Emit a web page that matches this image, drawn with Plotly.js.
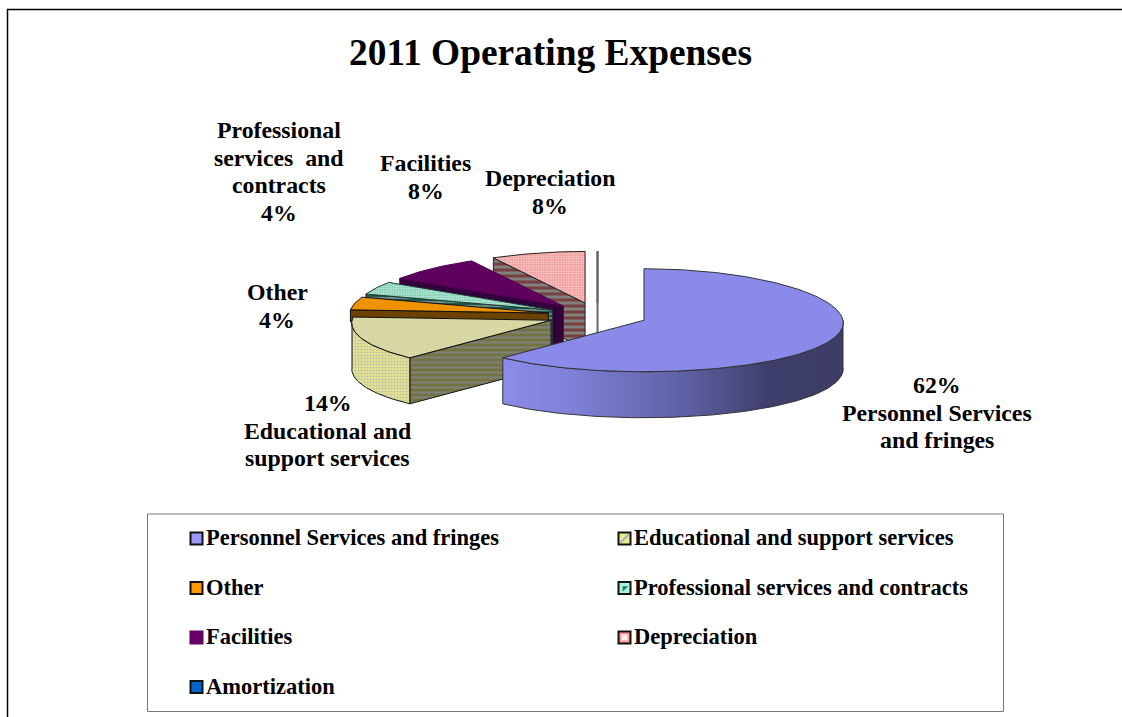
<!DOCTYPE html>
<html>
<head>
<meta charset="utf-8">
<script src="https://cdn.plot.ly/plotly-3.0.1.min.js"></script>
<style>html,body{margin:0;padding:0;background:#fff}#chart{width:1122px;height:717px}</style>
</head>
<body>
<div id="chart"></div>
<script>
// Operating expense shares for 2011, in legend order
const categories = ['Personnel Services and fringes', 'Educational and support services', 'Other',
  'Professional services and contracts', 'Facilities', 'Depreciation', 'Amortization'];
const percents = [62, 14, 4, 4, 8, 8, 0];

// Slice label wording, broken over lines; the percentage sits first or last
const labelLines = [['Personnel Services', 'and fringes'], ['Educational and', 'support services'], ['Other'],
  ['Professional', 'services  and', 'contracts'], ['Facilities'], ['Depreciation'], null];
const percentFirst = [true, true, false, false, false, false, false];
const labelX = [936.5, 327.5, 277, 279, 425.5, 549.5, 0];
const labelTopY = [385, 403, 292, 130, 163, 178, 0];
const labelLineStep = 27.6;

// Tilted pie geometry in page pixels
const pie = {cx: 597.5, cy: 315.5, rx: 199, ry: 51.5, depth: 46, explode: 50, persp: 0.05};

const SERIF = '"Liberation Serif", "Times New Roman", serif';

// Face styling per slice; cutDepth trims a cut face to the part that can show
const faceStyles = [
  {top: {color: '#8a8aea'}, rim: {gradient: [[0, '#8b8be9'], [0.2, '#8080d8'], [0.55, '#5e5ea2'], [0.78, '#3e3e6c'], [1, '#3d3d68']]}, edge: '#333'},
  {top: {color: '#d6d6a6', pattern: {shape: '.', fgcolor: '#dcdca0', bgcolor: '#d2d2aa', size: 3, solidity: 0.5}},
   rim: {color: '#dede9c', pattern: {shape: '.', fgcolor: '#bdbdb8', bgcolor: '#e8e88a', size: 3, solidity: 0.4}},
   cut: {color: '#77775a', pattern: {shape: '-', fgcolor: '#808078', bgcolor: '#73733f', size: 5, solidity: 0.45}}, edge: '#111'},
  {top: {color: '#ee9200'}, cut: {color: '#6b4200'}, cutDepth: 12, edge: '#111'},
  {top: {color: '#84d8bc', pattern: {shape: '.', fgcolor: '#c8ecdc', bgcolor: '#69c8a8', size: 2.5, solidity: 0.5}},
   cut: {color: '#3a6e62', pattern: {shape: '-', fgcolor: '#6f8a84', bgcolor: '#1f5a4c', size: 4, solidity: 0.5}}, edge: '#1a3a33'},
  {top: {color: '#5f005f'}, cut: {color: '#32003a'}, edge: '#4a004a'},
  {top: {color: '#f29a9a', pattern: {shape: '.', fgcolor: '#f9d2d2', bgcolor: '#ee8a8a', size: 2.5, solidity: 0.5}},
   cut: {color: '#7a5a5a', pattern: {shape: '-', fgcolor: '#808080', bgcolor: '#793f3f', size: 6, solidity: 0.5}}, edge: '#222'},
  {top: {color: '#808080'}, cut: {color: '#808080'}, edge: '#666', dash: '2px,1px', edgeWidth: 2}
];

// Legend swatches
const swatchColors = ['#9999ff', '#eeee88', '#ff9900', '#a8f0e0', '#660066', '#ff9999', '#0066cc'];
const swatchLines = ['#111', '#111', '#111', '#111', '#660066', '#111', '#111'];
const legendColumnX = [196.5, 624.5];
const legendRowY = [538.5, 588, 637.5, 687];

const rad = d => d * Math.PI / 180;

// Project a polar position on the pie disc to page pixels
function project(r, deg, ox, oy, drop) {
  const s = Math.sin(rad(deg)), c = Math.cos(rad(deg));
  const scale = 1 - pie.persp * r * c;
  return [ox + pie.rx * r * s * scale, oy - pie.ry * r * c + drop];
}

function arc(a, b, ox, oy, drop) {
  const pts = [], n = Math.max(1, Math.ceil(Math.abs(b - a)));
  for (let i = 0; i <= n; i++) pts.push(project(1, a + (b - a) * i / n, ox, oy, drop));
  return pts;
}

function face(pts, style, st) {
  const xs = pts.map(p => p[0]), ys = pts.map(p => p[1]);
  xs.push(xs[0]); ys.push(ys[0]);
  const tr = {type: 'scatter', mode: 'lines', x: xs, y: ys, fill: 'toself', hoverinfo: 'skip',
    showlegend: false, line: {color: st.edge, width: st.edgeWidth || 1, dash: st.dash || 'solid'}};
  if (style.gradient) tr.fillgradient = {type: 'horizontal', colorscale: style.gradient};
  else tr.fillcolor = style.color;
  if (style.pattern) tr.fillpattern = style.pattern;
  return tr;
}

const total = percents.reduce((a, b) => a + b, 0);
const starts = [];
percents.reduce((acc, v, i) => { starts[i] = acc; return acc + v / total * 360; }, 0);

const traces = [];
// Paint from the last slice (back of the pie) to the first (front)
for (let i = percents.length - 1; i >= 0; i--) {
  const a = starts[i], b = a + percents[i] / total * 360, st = faceStyles[i];
  const mid = rad((a + b) / 2);
  const ox = pie.cx + pie.explode * Math.sin(mid);
  const oy = pie.cy - pie.explode * pie.ry / pie.rx * Math.cos(mid);
  const apex = [ox, oy];

  if (a >= 180 && st.cut) {
    const d = st.cutDepth || pie.depth;
    traces.push(face([apex, project(1, a, ox, oy, 0), project(1, a, ox, oy, d), [ox, oy + d]], st.cut, st));
  }
  const lo = Math.max(a, 90), hi = Math.min(b, 270);
  if (hi > lo && st.rim) {
    traces.push(face(arc(lo, hi, ox, oy, 0).concat(arc(hi, lo, ox, oy, pie.depth)), st.rim, st));
  }
  traces.push(face([apex].concat(arc(a, b, ox, oy, 0)), st.top, st));
}

// Legend: swatch markers and their text, filled across each row
const swatchX = [], swatchY = [], textX = [], textY = [];
categories.forEach((c, i) => {
  const col = i % 2, row = Math.floor(i / 2);
  swatchX.push(legendColumnX[col]); swatchY.push(legendRowY[row]);
  textX.push(legendColumnX[col] + 9.5); textY.push(legendRowY[row] + 1);
});
traces.push({type: 'scatter', mode: 'markers', x: swatchX, y: swatchY, hoverinfo: 'skip', showlegend: false,
  marker: {symbol: 'square', size: 12, color: swatchColors, line: {color: swatchLines, width: 2}}});
// Two-tone details inside the patterned swatches
traces.push({type: 'scatter', mode: 'markers', x: [swatchX[1]], y: [swatchY[1]], hoverinfo: 'skip', showlegend: false,
  marker: {symbol: 'line-ne', size: 8, line: {color: '#a8a8d8', width: 2}}});
traces.push({type: 'scatter', mode: 'markers', x: [swatchX[3]], y: [swatchY[3]], hoverinfo: 'skip', showlegend: false,
  marker: {symbol: 'triangle-nw', size: 6, color: '#1f7a55'}});
traces.push({type: 'scatter', mode: 'markers', x: [swatchX[5]], y: [swatchY[5]], hoverinfo: 'skip', showlegend: false,
  marker: {symbol: 'square', size: 6, color: '#ffeeee'}});
traces.push({type: 'scatter', mode: 'text', x: textX, y: textY, text: categories, textposition: 'middle right',
  hoverinfo: 'skip', showlegend: false, textfont: {family: SERIF, size: 22.5, color: '#000', weight: 'bold'}});

// Slice labels, one annotation per line to hold the tight line spacing
const annotations = [];
percents.forEach((v, i) => {
  if (!labelLines[i]) return;
  const pct = v + '%';
  const lines = percentFirst[i] ? [pct].concat(labelLines[i]) : labelLines[i].concat([pct]);
  lines.forEach((line, k) => {
    annotations.push({x: labelX[i], y: labelTopY[i] + k * labelLineStep, xref: 'x', yref: 'y', showarrow: false,
      xanchor: 'center', yanchor: 'middle', align: 'center', text: line,
      font: {family: SERIF, size: 23.8, color: '#000', weight: 'bold'}});
  });
});

const layout = {
  width: 1122, height: 717, margin: {l: 0, r: 0, t: 0, b: 0},
  paper_bgcolor: '#fff', plot_bgcolor: '#fff', showlegend: false,
  title: {text: '<b>2011 Operating Expenses</b>', x: 550.5 / 1122, xanchor: 'center', y: 1 - 52 / 717, yanchor: 'middle',
    font: {family: SERIF, size: 37.4, color: '#000'}},
  xaxis: {range: [0, 1122], visible: false, fixedrange: true},
  yaxis: {range: [717, 0], visible: false, fixedrange: true},
  annotations,
  shapes: [
    {type: 'line', xref: 'x', yref: 'y', x0: 7.5, x1: 7.5, y0: 9.5, y1: 717, line: {color: '#000', width: 1.5}},
    {type: 'line', xref: 'x', yref: 'y', x0: 7, x1: 1122, y0: 9.5, y1: 9.5, line: {color: '#000', width: 1.5}},
    {type: 'rect', xref: 'x', yref: 'y', x0: 147.5, x1: 1003.5, y0: 514, y1: 711.5, line: {color: '#777', width: 1}}
  ]
};

Plotly.newPlot('chart', traces, layout, {displayModeBar: false, staticPlot: true});
</script>
</body>
</html>
